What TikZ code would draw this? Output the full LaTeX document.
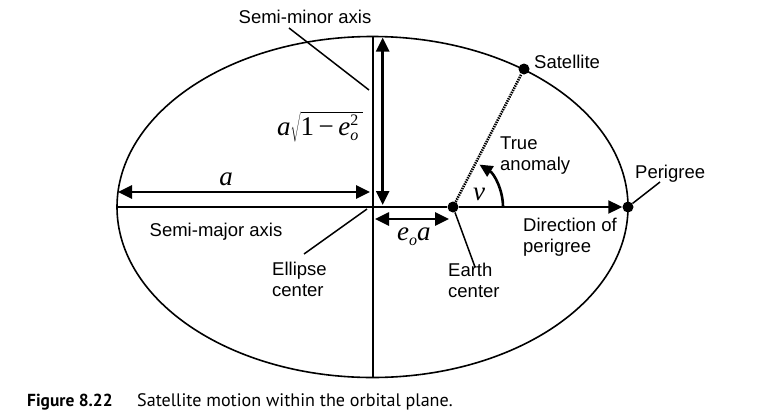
\documentclass[tikz,border=0pt]{standalone}
\usepackage{fontspec}
\setmainfont{Liberation Sans}
\newfontfamily\tms{Liberation Serif}
\newfontfamily\capfont{PT Sans}
\usetikzlibrary{arrows.meta}
\begin{document}
\begin{tikzpicture}[x=1pt,y=-1pt,
  lbl/.style={inner sep=0pt,font=\fontsize{18.5}{21}\selectfont},
  mth/.style={inner sep=0pt,font=\fontsize{27}{30}\selectfont\tms\itshape},
  dimarrow/.style={line width=2.6pt,{Triangle[length=14pt,width=13pt]}-{Triangle[length=14pt,width=13pt]}},
  lead/.style={line width=1.5pt},
  axisline/.style={line width=2pt},
  dot/.style={circle,fill=black,inner sep=0pt,minimum size=11pt}]
\useasboundingbox (0,0) rectangle (768,418);
% geometry
\coordinate (C) at (372.5,207);
\coordinate (L) at (117,207);
\coordinate (T) at (372.5,36.5);
\coordinate (B) at (372.5,377.5);
\draw[line width=1.6pt] (C) ellipse [x radius=255.5, y radius=170.5];
\node[dot] (E) at (453,207) {};
\node[dot] (P) at (628,207) {};
\node[dot] (S) at (524,69) {};
% axes
\draw[axisline] (L) -- (E);
\draw[axisline,-{Triangle[length=14pt,width=13pt]}] (E) -- (P);
\draw[axisline] (T) -- (B);
% dimension arrows
\coordinate (m1) at (382.7,37.5);
\coordinate (m2) at (382.7,205);
\draw[dimarrow] (m1) -- (m2);
\coordinate (a1) at (118,192);
\coordinate (a2) at (370,192);
\draw[dimarrow] (a1) -- (a2);
\coordinate (f1) at (375,219);
\coordinate (f2) at (449,219);
\draw[dimarrow] (f1) -- (f2);
% satellite radius
\draw[line width=2.6pt,dash pattern=on 1.4pt off 1pt] (E) -- (S);
% true anomaly arc
\coordinate (arcS) at (503,207);
\draw[line width=2.6pt,-{Triangle[length=13pt,width=12pt]}] (arcS) arc[start angle=0,end angle=-58,radius=50];
% labels
\node[lbl,anchor=base] (lminor) at (305,23) {Semi-minor axis};
\node[lbl,anchor=base west] (lsat) at (534,68) {Satellite};
\node[lbl,anchor=north west,align=left] (ltrue) at (500,137) {True\\anomaly};
\node[lbl,anchor=base west] (lper) at (635,178) {Perigree};
\node[lbl,anchor=north west,align=left] (ldir) at (523,218) {Direction of\\perigree};
\node[lbl,anchor=base] (lmajor) at (216,236) {Semi-major axis};
\node[lbl,anchor=north west,align=left] (lcen) at (272,262) {Ellipse\\center};
\node[lbl,anchor=north west,align=left] (learth) at (448,263) {Earth\\center};
\node[mth,anchor=base] (la) at (226,185) {a};
\node[mth,anchor=base west] (lnu) at (473,200) {ν};
\node[mth,anchor=base west] (lea) at (397,240) {e\raisebox{-5pt}{\fontsize{16}{16}\selectfont o}a};
\node[mth,anchor=base west] (lform) at (277,135) {a$\sqrt{\hbox{\fontsize{27}{30}\selectfont\tms\upshape 1\,−\,\itshape e\rlap{\raisebox{10pt}{\fontsize{16}{16}\selectfont\upshape 2}}\raisebox{-5pt}{\fontsize{16}{16}\selectfont o}\,}}$};
% leaders
\coordinate (lm1) at (289,28);
\coordinate (lm2) at (369,90);
\draw[lead] (lm1) -- (lm2);
\coordinate (lc1) at (367,209);
\coordinate (lc2) at (304,254);
\draw[lead] (lc1) -- (lc2);
\coordinate (le2) at (475,267);
\draw[lead] (E) -- (le2);
\coordinate (lp2) at (660,182);
\draw[lead] (P) -- (lp2);
% caption
\node[inner sep=0pt,anchor=base west,font=\fontsize{17.4}{20}\selectfont\capfont\bfseries] (capn) at (27,406) {Figure 8.22};
\node[inner sep=0pt,anchor=base west,font=\fontsize{18.1}{20}\selectfont\capfont] (capt) at (137,406) {Satellite motion within the orbital plane.};
\end{tikzpicture}
\end{document}
